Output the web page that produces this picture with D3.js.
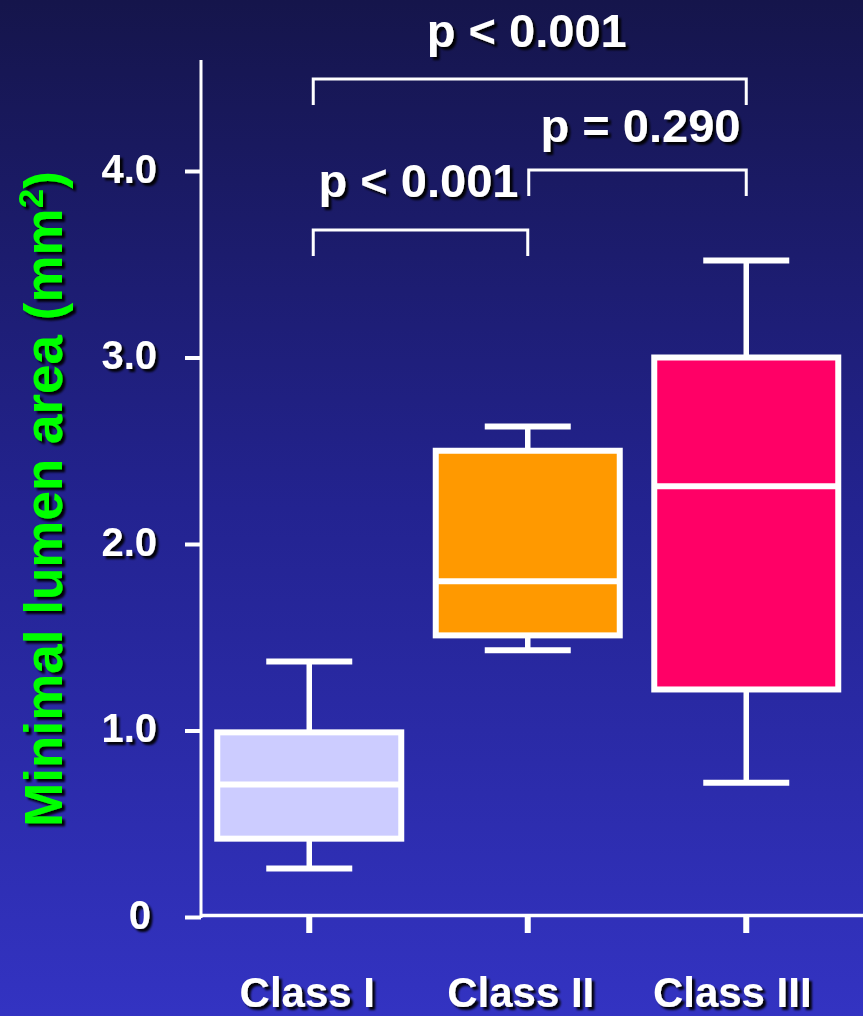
<!DOCTYPE html>
<html><head><meta charset="utf-8">
<script src="https://cdn.jsdelivr.net/npm/d3@7/dist/d3.min.js"></script>
<style>
html,body{margin:0;padding:0;background:#1f1f7a;}
svg{display:block;}
text{font-family:"Liberation Sans",Arial,sans-serif;font-weight:bold;}
</style></head>
<body>
<svg id="chart" width="863" height="1016"></svg>
<script>
// ---- data ----
const categories = ["Class I", "Class II", "Class III"];
const whiskerLow  = [0.26, 1.43, 0.72];
const quartile1   = [0.42, 1.51, 1.22];
const medians     = [0.71, 1.80, 2.31];
const quartile3   = [0.99, 2.50, 3.00];
const whiskerHigh = [1.37, 2.63, 3.52];
const boxColors   = ["#ccccff", "#ff9900", "#ff0066"];
const yTickValues = [0, 1, 2, 3, 4];
const yTickLabels = ["0", "1.0", "2.0", "3.0", "4.0"];
const comparisons = [
  {from: "Class I",  to: "Class III", label: "p < 0.001"},
  {from: "Class II", to: "Class III", label: "p = 0.290"},
  {from: "Class I",  to: "Class II",  label: "p < 0.001"}
];
const yTitle = "Minimal lumen area (mm";

// ---- setup ----
const svg = d3.select("#chart");
const W = 863, H = 1016;
const defs = svg.append("defs");
const grad = defs.append("linearGradient").attr("id","bg").attr("x1",0).attr("y1",0).attr("x2",0).attr("y2",1);
grad.append("stop").attr("offset","0%").attr("stop-color","#15154b");
grad.append("stop").attr("offset","50%").attr("stop-color","#232390");
grad.append("stop").attr("offset","100%").attr("stop-color","#3333c2");
const f = defs.append("filter").attr("id","shadow").attr("x","-20%").attr("y","-20%").attr("width","140%").attr("height","140%");
f.append("feDropShadow").attr("dx",3).attr("dy",3).attr("stdDeviation",0.8).attr("flood-color","#000").attr("flood-opacity",0.95);

svg.append("rect").attr("width",W).attr("height",H).attr("fill","url(#bg)");

const y = d3.scaleLinear().domain([0, 4]).range([917, 171]);
const x = d3.scaleBand().domain(categories).range([200, 855.5]).padding(0);
const cx = c => x(c) + x.bandwidth()/2;

const axisX = 201;
// y axis
const yAxis = d3.axisLeft(y).tickValues(yTickValues)
  .tickFormat((d,i) => yTickLabels[i]).tickSize(16).tickPadding(28);
const gy = svg.append("g").attr("transform", `translate(${axisX},0)`).call(yAxis);
gy.select(".domain").remove();
gy.selectAll(".tick line").attr("stroke","#fff").attr("stroke-width",4);
gy.selectAll(".tick text").attr("fill","#fff").attr("font-size",40)
  .attr("dy","0.28em").attr("filter","url(#shadow)")
  .attr("dx", (d) => d === 0 ? -6 : 0);
svg.append("line").attr("x1",axisX).attr("x2",axisX).attr("y1",60).attr("y2",918)
  .attr("stroke","#fff").attr("stroke-width",3);

// x axis
const xAxis = d3.axisBottom(x).tickSize(16).tickPadding(44);
const gx = svg.append("g").attr("transform", `translate(0,${y(0)})`).call(xAxis);
gx.select(".domain").remove();
gx.selectAll(".tick line").attr("stroke","#fff").attr("stroke-width",6);
const nudge = [-2, -7, -14];
gx.selectAll(".tick text").attr("fill","#fff").attr("font-size",42)
  .attr("dx",(d,i)=>nudge[i]).attr("filter","url(#shadow)");
svg.append("line").attr("x1",200).attr("x2",W).attr("y1",y(0)-1.5).attr("y2",y(0)-1.5)
  .attr("stroke","#fff").attr("stroke-width",3.5);

// boxes
const boxW = 184, capW = 86;
const boxes = svg.append("g").selectAll("g").data(categories).join("g");
boxes.each(function(c, i){
  const g = d3.select(this);
  const xc = cx(c);
  g.append("line").attr("x1",xc).attr("x2",xc).attr("y1",y(whiskerHigh[i])).attr("y2",y(quartile3[i]))
    .attr("stroke","#fff").attr("stroke-width",5.5);
  g.append("line").attr("x1",xc).attr("x2",xc).attr("y1",y(quartile1[i])).attr("y2",y(whiskerLow[i]))
    .attr("stroke","#fff").attr("stroke-width",5.5);
  g.append("line").attr("x1",xc-capW/2).attr("x2",xc+capW/2).attr("y1",y(whiskerHigh[i])).attr("y2",y(whiskerHigh[i]))
    .attr("stroke","#fff").attr("stroke-width",6);
  g.append("line").attr("x1",xc-capW/2).attr("x2",xc+capW/2).attr("y1",y(whiskerLow[i])).attr("y2",y(whiskerLow[i]))
    .attr("stroke","#fff").attr("stroke-width",6);
  g.append("rect").attr("x",xc-boxW/2).attr("width",boxW)
    .attr("y",y(quartile3[i])).attr("height",y(quartile1[i])-y(quartile3[i]))
    .attr("fill",boxColors[i]).attr("stroke","#fff").attr("stroke-width",6);
  g.append("line").attr("x1",xc-boxW/2).attr("x2",xc+boxW/2).attr("y1",y(medians[i])).attr("y2",y(medians[i]))
    .attr("stroke","#fff").attr("stroke-width",6);
});

// comparison brackets
const bracketY = [79, 170, 230];
const labelY = [47, 142, 197];
const labelDX = [-3, 3, -2];
comparisons.forEach((cmp, i) => {
  let x1 = cx(cmp.from) + 4, x2 = cx(cmp.to);
  if (cmp.from === "Class II") x1 = cx(cmp.from) + 1;
  const yb = bracketY[i];
  svg.append("path").attr("d", `M${x1},${yb+26}V${yb}H${x2}V${yb+26}`)
    .attr("fill","none").attr("stroke","#fff").attr("stroke-width",3);
  svg.append("text").attr("x", (x1+x2)/2 + labelDX[i]).attr("y", labelY[i])
    .attr("text-anchor","middle").attr("fill","#fff").attr("font-size",47)
    .attr("filter","url(#shadow)").text(cmp.label);
});

// y title
const tg = svg.append("g").attr("filter","url(#shadow)");
const tt = tg.append("text").attr("transform","translate(62,499) rotate(-90)")
  .attr("text-anchor","middle").attr("fill","#00ff00").attr("font-size",53);
tt.append("tspan").text(yTitle);
tt.append("tspan").attr("font-size",35).attr("dy",-19).text("2");
tt.append("tspan").attr("dy",19).text(")");
</script>
</body></html>
